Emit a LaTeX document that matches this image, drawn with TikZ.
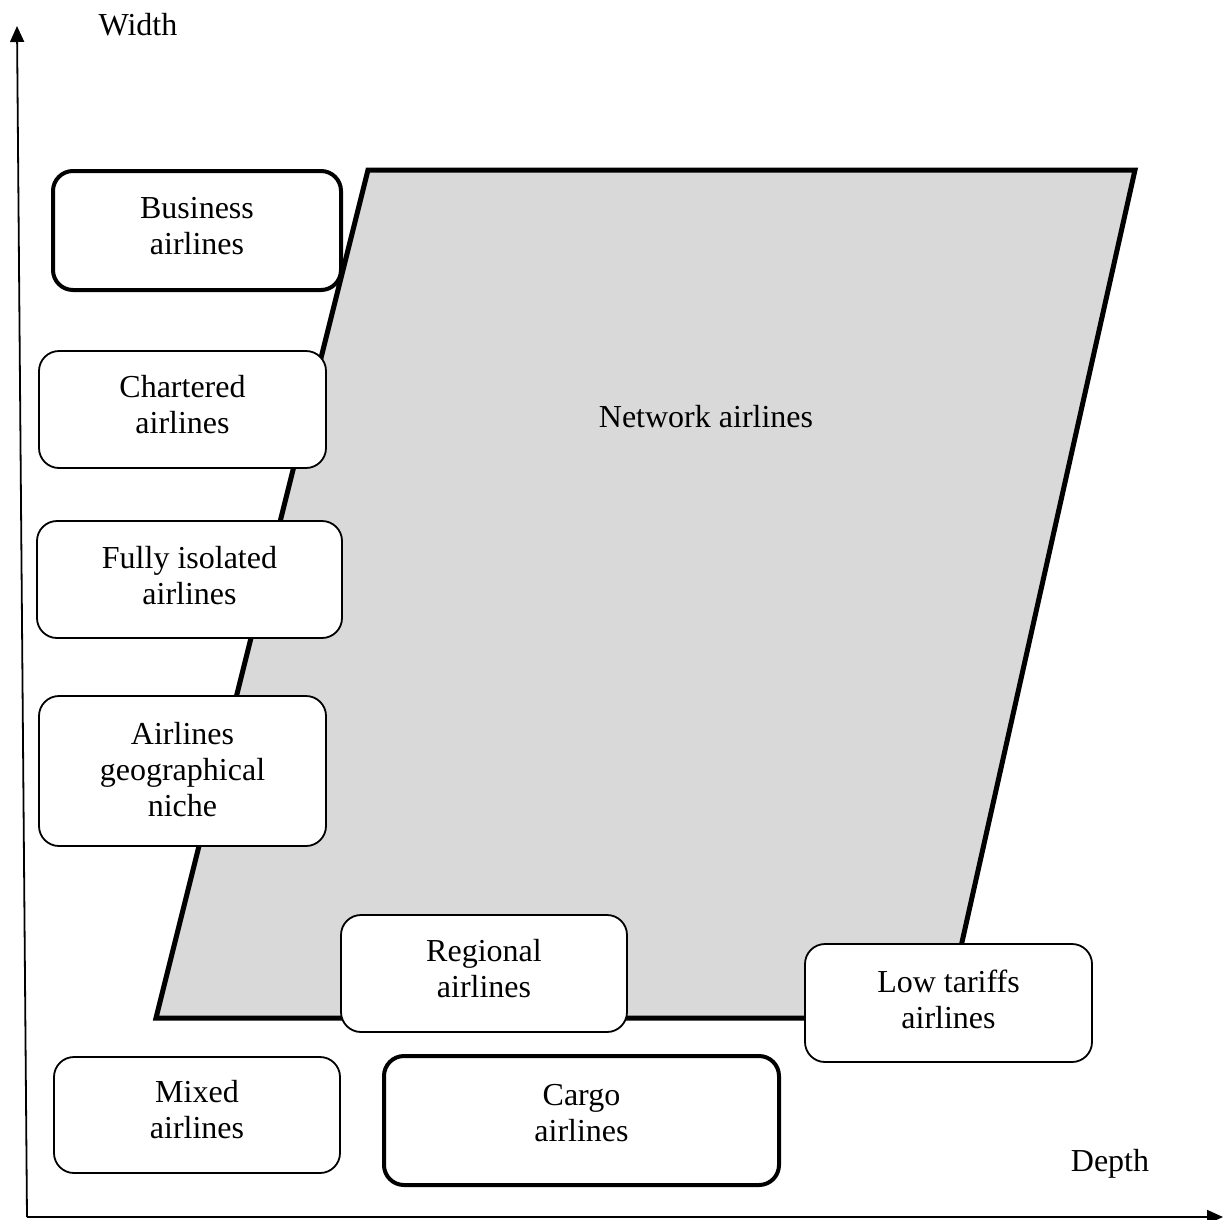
\documentclass[tikz,border=0pt]{standalone}
\usepackage{fontspec}
\setmainfont{Liberation Serif}
\usetikzlibrary{arrows.meta}
\begin{document}
\begin{tikzpicture}[x=1pt,y=-1pt,
  every node/.style={font=\fontsize{32}{36}\selectfont},
  every label/.style={align=center, inner sep=0pt},
  catbox/.style={draw=black, fill=white, rounded corners=20pt, line width=1.8pt, inner sep=0pt},
  thickbox/.style={catbox, line width=4pt},
  axis/.style={line width=1.8pt, -{Triangle[length=16pt,width=14pt]}},
  market/.style={draw=black, fill=gray!30, line width=5pt, line join=miter}
]
\useasboundingbox (0,0) rectangle (1223,1219);
% axes
\coordinate (origin) at (27,1217);
\coordinate (ytop) at (17,26);
\coordinate (xend) at (1223,1217);
\draw[axis] (origin) -- (ytop);
\draw[axis] (origin) -- (xend);
\node (wlab) at (138,25) {Width};
\node (dlab) at (1110,1164) {Depth};
% network parallelogram
\coordinate (p1) at (368,170);
\coordinate (p2) at (1135,170);
\coordinate (p3) at (945,1018);
\coordinate (p4) at (156,1018);
\draw[market] (p1) -- (p2) -- (p3) -- (p4) -- cycle;
\node (net) at (706,417) {Network airlines};
% boxes
\node[thickbox, minimum width=288pt, minimum height=119pt,
  label={[yshift=4pt]center:{Business\\airlines}}] (bus) at (197,230.5) {};
\node[catbox, minimum width=287pt, minimum height=117pt,
  label={[yshift=5pt]center:{Chartered\\airlines}}] (cha) at (182.5,409.5) {};
\node[catbox, minimum width=305pt, minimum height=117pt,
  label={[yshift=4pt]center:{Fully isolated\\airlines}}] (iso) at (189.5,579.5) {};
\node[catbox, minimum width=287pt, minimum height=150pt,
  label={[yshift=1pt]center:{Airlines\\geographical\\niche}}] (geo) at (182.5,771) {};
\node[catbox, minimum width=286pt, minimum height=117pt,
  label={[yshift=5pt]center:{Regional\\airlines}}] (reg) at (484,973.5) {};
\node[catbox, minimum width=287pt, minimum height=118pt,
  label={[yshift=4pt]center:{Low tariffs\\airlines}}] (low) at (948.5,1003) {};
\node[catbox, minimum width=286pt, minimum height=116pt,
  label={[yshift=5pt]center:{Mixed\\airlines}}] (mix) at (197,1115) {};
\node[thickbox, minimum width=395pt, minimum height=129pt,
  label={[yshift=7.5pt]center:{Cargo\\airlines}}] (car) at (581.5,1120.5) {};
\end{tikzpicture}
\end{document}
